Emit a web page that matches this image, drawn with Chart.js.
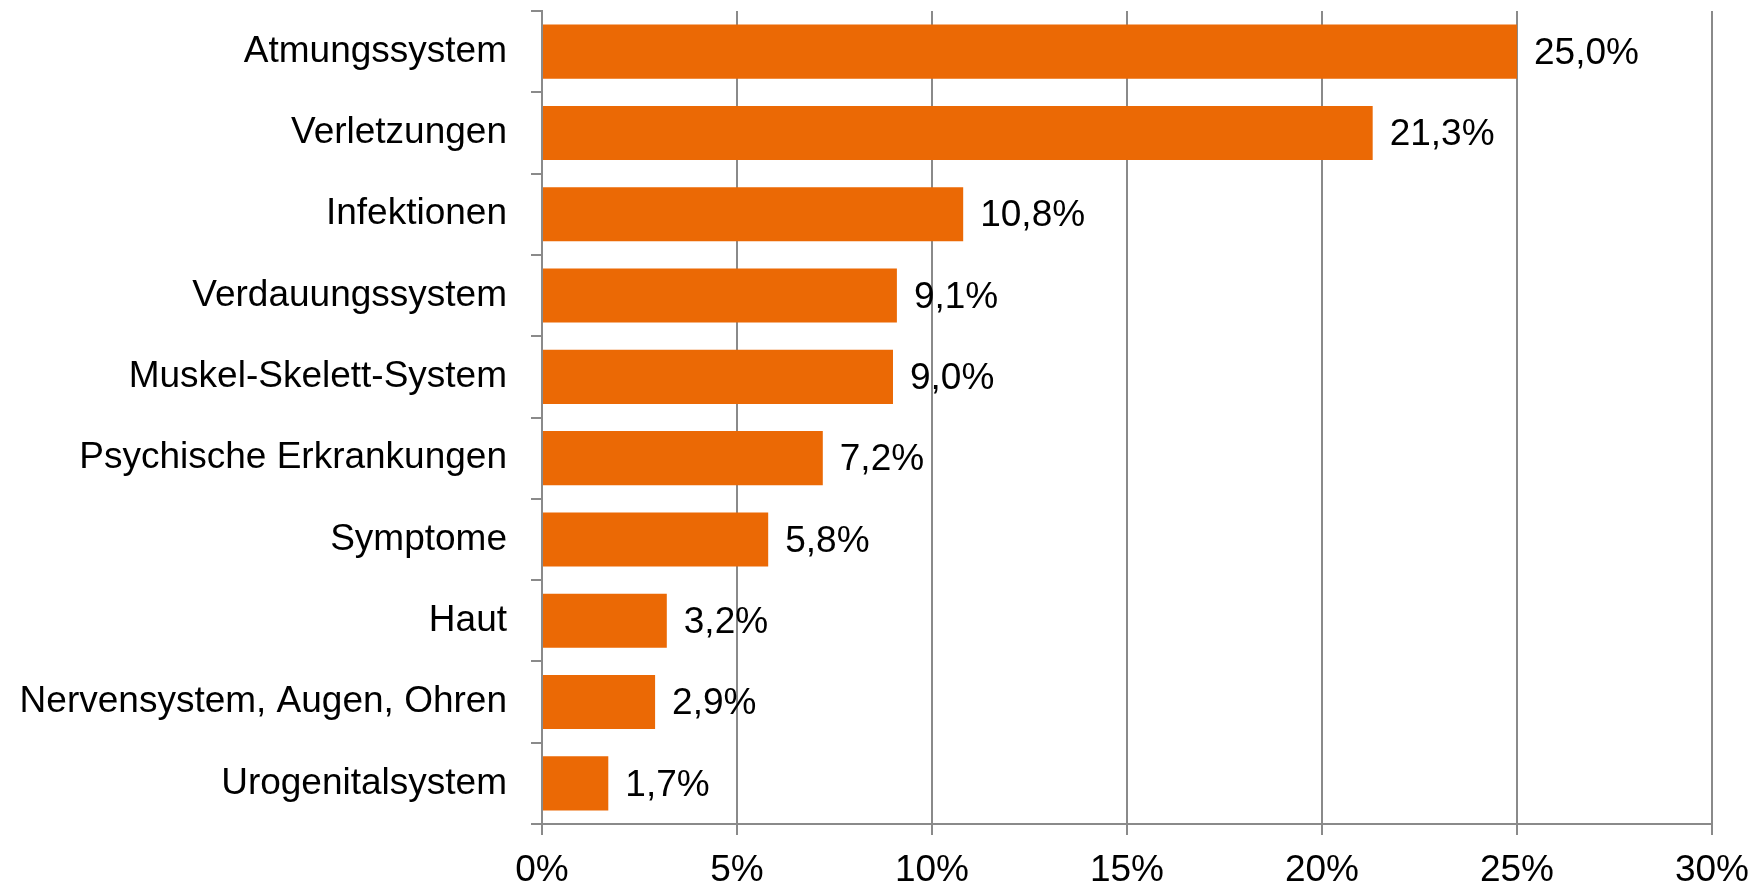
<!DOCTYPE html>
<html>
<head>
<meta charset="utf-8">
<script src="https://cdn.jsdelivr.net/npm/chart.js@4"></script>
<style>
  html, body { margin: 0; padding: 0; background: #fff; }
  #wrap { width: 1763px; height: 885px; }
</style>
</head>
<body>
<div id="wrap"><canvas id="diagChart"></canvas></div>
<script>
var categories = [
    'Atmungssystem',
    'Verletzungen',
    'Infektionen',
    'Verdauungssystem',
    'Muskel-Skelett-System',
    'Psychische Erkrankungen',
    'Symptome',
    'Haut',
    'Nervensystem, Augen, Ohren',
    'Urogenitalsystem'
];
var shares = [25.0, 21.3, 10.8, 9.1, 9.0, 7.2, 5.8, 3.2, 2.9, 1.7];
var xTicks = [0, 5, 10, 15, 20, 25, 30];

var fontFamily = '"Liberation Sans", Arial, sans-serif';
var axisGray = '#8a8a8a';

// Werte rechts neben die Balken schreiben
var valueLabels = {
    id: 'valueLabels',
    afterDatasetsDraw: function (chart) {
        var ctx = chart.ctx;
        var meta = chart.getDatasetMeta(0);
        ctx.save();
        ctx.font = '37px ' + fontFamily;
        ctx.fillStyle = '#000';
        ctx.textAlign = 'left';
        ctx.textBaseline = 'middle';
        meta.data.forEach(function (bar, i) {
            var txt = shares[i].toFixed(1).replace('.', ',') + '%';
            ctx.fillText(txt, bar.x + 17, bar.y + 2);
        });
        ctx.restore();
    }
};

document.addEventListener('DOMContentLoaded', function () {
    var ctx = document.getElementById('diagChart').getContext('2d');
    new Chart(ctx, {
        type: 'bar',
        data: {
            labels: categories,
            datasets: [{
                data: shares,
                backgroundColor: '#eb6905',
                borderWidth: 0,
                categoryPercentage: 1.0,
                barPercentage: 0.665
            }]
        },
        options: {
            indexAxis: 'y',
            responsive: true,
            maintainAspectRatio: false,
            animation: false,
            devicePixelRatio: 1,
            layout: { padding: { top: 11, right: 51, bottom: 0, left: 0 } },
            plugins: {
                legend: { display: false },
                tooltip: { enabled: false }
            },
            scales: {
                x: {
                    min: 0,
                    max: 30,
                    afterBuildTicks: function (scale) {
                        scale.ticks = xTicks.map(function (v) { return { value: v }; });
                    },
                    afterFit: function (scale) { scale.height = 61; },
                    ticks: {
                        color: '#000',
                        font: { family: fontFamily, size: 37 },
                        padding: 14,
                        maxRotation: 0,
                        callback: function (v) { return v + '%'; }
                    },
                    grid: {
                        color: axisGray,
                        lineWidth: 2,
                        tickLength: 11
                    },
                    border: { color: axisGray, width: 2 }
                },
                y: {
                    afterFit: function (scale) {
                        scale.width = 542;
                        scale.paddingTop = 0;
                        scale.paddingBottom = 0;
                    },
                    ticks: {
                        color: '#000',
                        font: { family: fontFamily, size: 37 },
                        padding: 24
                    },
                    grid: {
                        offset: true,
                        drawOnChartArea: false,
                        color: axisGray,
                        lineWidth: 2,
                        tickLength: 11
                    },
                    border: { color: axisGray, width: 2 }
                }
            }
        },
        plugins: [valueLabels]
    });
});
</script>
</body>
</html>
